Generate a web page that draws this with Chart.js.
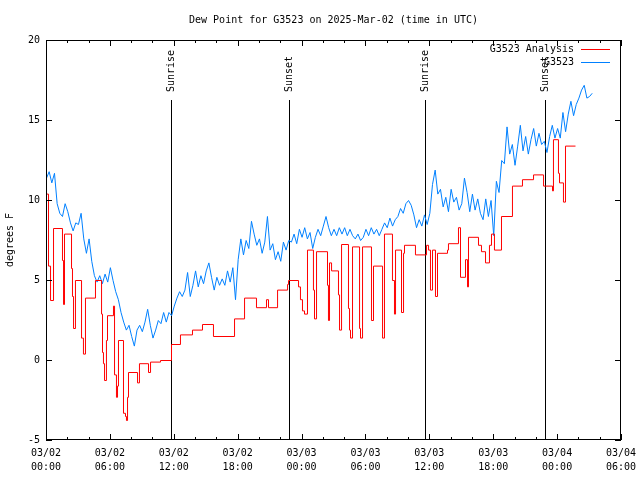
<!DOCTYPE html>
<html><head><meta charset="utf-8">
<script src="https://cdn.jsdelivr.net/npm/chart.js@4.4.1/dist/chart.umd.min.js"></script>
<style>html,body{margin:0;padding:0;background:#fff;}#wrap{width:640px;height:480px;}</style>
</head><body><div id="wrap"><canvas id="c" width="640" height="480"></canvas></div>
<script>
const titleText = 'Dew Point for G3523 on 2025-Mar-02 (time in UTC)';
const yAxisTitle = 'degrees F';
const tickDates = ['03/02','03/02','03/02','03/02','03/03','03/03','03/03','03/03','03/04','03/04'];
const tickTimes = ['00:00','06:00','12:00','18:00','00:00','06:00','12:00','18:00','00:00','06:00'];
const analysisLabel = 'G3523 Analysis';
const obsLabel = 'G3523';
const sunLabels = ['Sunrise','Sunset','Sunrise','Sunset'];
const sunHours = [11.71, 22.82, 35.62, 46.88];

// Analysis (hours since 03/02 00:00 UTC, deg F) - stepped
const analysisHours = [0.00,0.19,0.38,0.66,1.50,1.60,1.69,2.35,2.44,2.54,2.72,3.29,3.47,3.66,4.60,5.17,5.26,5.35,5.45,5.63,5.73,6.29,6.39,6.57,6.67,6.76,7.23,7.42,7.51,7.61,7.70,8.55,8.73,9.58,9.77,10.71,11.74,12.58,13.71,14.65,15.68,17.66,18.60,19.72,20.66,20.85,21.70,22.64,22.73,23.67,23.85,24.04,24.23,24.51,25.07,25.17,25.36,26.39,26.48,26.58,26.77,27.42,27.52,27.71,28.36,28.46,28.55,28.74,29.40,29.49,29.68,30.52,30.71,31.56,31.74,32.49,32.68,32.78,33.34,33.53,33.62,34.65,35.69,35.88,36.06,36.25,36.53,36.72,37.66,37.75,38.69,38.88,39.35,39.54,39.63,40.57,40.85,41.23,41.60,41.79,42.07,42.73,43.76,44.70,45.74,46.68,47.52,47.61,48.08,48.18,48.55,48.74,49.68];
const analysisValues = [10.4,5.9,3.75,8.25,6.25,3.5,7.9,5.75,4.0,2.0,5.0,1.4,0.4,3.9,5.0,2.9,0.5,-0.2,-1.25,1.25,2.8,3.4,-0.9,-2.3,-1.6,1.25,-3.3,-3.5,-3.75,-2.3,-0.75,-1.4,-0.2,-0.75,-0.1,0.0,1.0,1.6,1.9,2.25,1.5,2.6,3.9,3.3,3.8,3.3,4.4,4.75,5.0,4.6,3.8,3.1,2.9,6.9,4.4,2.6,6.8,4.7,2.5,6.1,5.6,4.1,1.9,7.25,3.25,1.9,1.4,7.1,2.0,1.4,7.1,2.5,5.9,1.4,7.9,5.0,2.9,6.9,3.0,6.7,7.2,6.6,7.2,6.9,4.4,6.9,4.0,6.7,6.9,7.3,8.3,5.2,6.3,4.6,7.7,7.2,6.8,6.1,7.2,7.9,6.9,9.0,10.9,11.3,11.6,10.9,10.6,13.8,11.7,11.1,9.9,13.4,13.4];

// Observations (hours since 03/02 00:00 UTC, deg F)
const obsHours = [
0,0.25,0.5,0.75, 1,1.25,1.5,1.75, 2,2.25,2.5,2.75, 3,3.25,3.5,3.75, 4,4.25,4.5,4.75,
5,5.25,5.5,5.75, 6,6.25,6.5,6.75, 7,7.25,7.5,7.75, 8,8.25,8.5,8.75, 9,9.25,9.5,9.75,
10,10.25,10.5,10.75, 11,11.25,11.5,11.75, 12,12.25,12.5,12.75, 13,13.25,13.5,13.75, 14,14.25,14.5,14.75,
15,15.25,15.5,15.75, 16,16.25,16.5,16.75, 17,17.25,17.5,17.75, 18,18.25,18.5,18.75, 19,19.25,19.5,19.75,
20,20.25,20.5,20.75, 21,21.25,21.5,21.75, 22,22.25,22.5,22.75, 23,23.25,23.5,23.75, 24,24.25,24.5,24.75,
25,25.25,25.5,25.75, 26,26.25,26.5,26.75, 27,27.25,27.5,27.75, 28,28.25,28.5,28.75, 29,29.25,29.5,29.75,
30,30.25,30.5,30.75, 31,31.25,31.5,31.75, 32,32.25,32.5,32.75, 33,33.25,33.5,33.75, 34,34.25,34.5,34.75,
35,35.25,35.5,35.75, 36,36.25,36.5,36.75, 37,37.25,37.5,37.75, 38,38.25,38.5,38.75, 39,39.25,39.5,39.75,
40,40.25,40.5,40.75, 41,41.25,41.5,41.75, 42,42.25,42.5,42.75, 43,43.25,43.5,43.75, 44,44.25,44.5,44.75,
45,45.25,45.5,45.75, 46,46.25,46.5,46.75, 47,47.25,47.5,47.75, 48,48.25,48.5,48.75, 49,49.25,49.5,49.75,
50,50.25,50.5,50.75, 51,51.25];
const obsValues = [
11.4,11.8,11.1,11.7, 9.8,9.2,9.0,9.8, 9.3,8.6,8.1,8.6, 8.5,9.2,7.6,6.7, 7.6,6.2,5.3,4.9,
5.3,4.8,5.4,4.9, 5.8,5.0,4.3,3.8, 3.0,2.4,1.9,2.2, 1.5,0.9,1.9,2.2, 1.8,2.4,3.2,2.2,
1.4,1.9,2.5,2.3, 3.0,2.4,3.0,2.8, 3.4,3.9,4.3,4.0, 4.4,5.5,4.0,4.7, 5.6,4.6,5.3,4.8,
5.6,6.1,5.2,4.4, 5.2,4.7,5.1,4.7, 5.6,4.9,5.8,3.8, 6.3,7.6,6.6,7.5, 7.0,8.7,7.9,7.2,
7.6,6.7,7.4,9.0, 6.9,7.3,6.3,6.8, 6.2,7.4,6.9,7.5, 7.4,7.9,7.3,8.2, 7.7,8.3,7.6,8.0,
7.0,7.7,8.2,7.8, 8.4,9.0,8.3,7.8, 8.2,7.8,8.3,7.9, 8.3,7.8,8.2,7.8, 7.6,7.9,7.5,7.7,
8.2,7.8,8.3,7.9, 8.2,7.8,8.2,8.6, 8.3,8.9,8.4,8.8, 9.0,9.5,9.2,9.8, 10.0,9.7,9.1,8.3,
8.8,8.4,9.1,8.5, 9.2,11.0,11.9,10.4, 10.7,9.6,10.2,9.3, 10.7,9.9,10.2,9.4, 9.8,11.4,10.5,9.3,
10.4,9.4,10.1,9.2, 8.8,10.1,9.0,10.0, 7.8,11.2,10.5,12.5, 12.3,14.6,12.9,13.5, 12.2,13.4,14.7,13.1,
14.0,12.9,13.8,14.5, 13.4,14.2,13.5,13.7, 13.0,14.0,14.7,13.9, 14.5,13.9,15.5,14.3, 15.4,16.2,15.3,16.0,
16.4,16.9,17.2,16.4, 16.5,16.7];

const xMin = 0, xMax = 54, xMajor = 6, xMinor = 2;
const yMin = -5, yMax = 20, yMajor = 5;

const FONT = 'DejaVu Sans Mono';
const RED = 'rgb(255,0,0)';
const BLUE = 'rgb(0,128,255)';

Chart.defaults.font.family = FONT;
Chart.defaults.font.size = 10;
Chart.defaults.color = '#000';

const framePlugin = {
  id: 'frame',
  beforeDatasetsDraw(chart) {
    const {ctx, chartArea: a, scales: {x}} = chart;
    ctx.save();
    ctx.strokeStyle = '#000';
    ctx.lineWidth = 1;
    ctx.fillStyle = '#000';
    ctx.font = '10px "' + FONT + '"';
    sunHours.forEach((h, i) => {
      const px = Math.round(x.getPixelForValue(h)) + 0.5;
      ctx.beginPath();
      ctx.moveTo(px, a.top + 60);
      ctx.lineTo(px, a.bottom);
      ctx.stroke();
      ctx.save();
      ctx.translate(px, a.top + 52);
      ctx.rotate(-Math.PI / 2);
      ctx.textAlign = 'left';
      ctx.textBaseline = 'middle';
      ctx.fillText(sunLabels[i], 0, 0);
      ctx.restore();
    });
    ctx.restore();
    // half-pixel shift for crisper 1px data lines
    ctx.save();
    ctx.translate(0.5, 0.5);
  },
  afterDatasetsDraw(chart) {
    chart.ctx.restore();
  },
  afterDraw(chart) {
    const {ctx, chartArea: a, scales: {x, y}} = chart;
    ctx.save();
    ctx.strokeStyle = '#000';
    ctx.lineWidth = 1;
    ctx.strokeRect(Math.round(a.left) + 0.5, Math.round(a.top) + 0.5,
      Math.round(a.right - a.left) - 1, Math.round(a.bottom - a.top) - 1);
    ctx.beginPath();
    for (let v = xMin; v <= xMax; v += xMinor) {
      const px = Math.round(x.getPixelForValue(v)) + 0.5;
      const len = (v % xMajor === 0) ? 6 : 3;
      ctx.moveTo(px, a.bottom); ctx.lineTo(px, a.bottom - len);
      ctx.moveTo(px, a.top); ctx.lineTo(px, a.top + len);
    }
    for (let v = yMin; v <= yMax; v += yMajor) {
      const py = Math.round(y.getPixelForValue(v)) + 0.5;
      ctx.moveTo(a.left, py); ctx.lineTo(a.left + 6, py);
      ctx.moveTo(a.right, py); ctx.lineTo(a.right - 6, py);
    }
    ctx.stroke();
    ctx.fillStyle = '#000';
    ctx.font = '10px "' + FONT + '"';
    ctx.textAlign = 'center';
    ctx.textBaseline = 'middle';
    ctx.fillText(titleText, (a.left + a.right) / 2, 20);
    ctx.textAlign = 'right';
    const items = [[analysisLabel, RED], [obsLabel, BLUE]];
    items.forEach((it, i) => {
      const ly = a.top + 9 + i * 13;
      ctx.fillStyle = '#000';
      ctx.fillText(it[0], a.right - 47, ly);
      ctx.strokeStyle = it[1];
      ctx.beginPath();
      ctx.moveTo(a.right - 40, Math.round(ly) + 0.5);
      ctx.lineTo(a.right - 11, Math.round(ly) + 0.5);
      ctx.stroke();
    });
    ctx.restore();
  }
};

new Chart(document.getElementById('c'), {
  type: 'line',
  data: {
    datasets: [
      {
        label: analysisLabel,
        data: analysisHours.map((h, i) => ({x: h, y: analysisValues[i]})),
        borderColor: RED, borderWidth: 1, pointRadius: 0, stepped: true, fill: false
      },
      {
        label: obsLabel,
        data: obsHours.map((h, i) => ({x: h, y: obsValues[i]})),
        borderColor: BLUE, borderWidth: 1, pointRadius: 0, tension: 0, fill: false
      }
    ]
  },
  options: {
    responsive: false,
    animation: false,
    devicePixelRatio: 1,
    layout: {padding: {left: 0, top: 40, right: 19, bottom: 0}},
    plugins: {legend: {display: false}, title: {display: false}, tooltip: {enabled: false}},
    scales: {
      x: {
        type: 'linear', min: xMin, max: xMax,
        grid: {display: false, drawTicks: false},
        border: {display: false},
        ticks: {
          stepSize: xMajor, autoSkip: false, maxRotation: 0, padding: 6,
          font: {size: 10, lineHeight: 1.4},
          callback: (v, i) => [tickDates[i], tickTimes[i]]
        },
        afterFit: s => { s.height = 40; s.paddingLeft = 0; s.paddingRight = 0; }
      },
      y: {
        type: 'linear', min: yMin, max: yMax,
        grid: {display: false, drawTicks: false},
        border: {display: false},
        ticks: {stepSize: yMajor, padding: 6, font: {size: 10}},
        title: {display: true, text: yAxisTitle, padding: {top: 4, bottom: 0}, font: {size: 10}},
        afterFit: s => { s.width = 46; s.paddingTop = 0; s.paddingBottom = 0; }
      }
    }
  },
  plugins: [framePlugin]
});
</script></body></html>
